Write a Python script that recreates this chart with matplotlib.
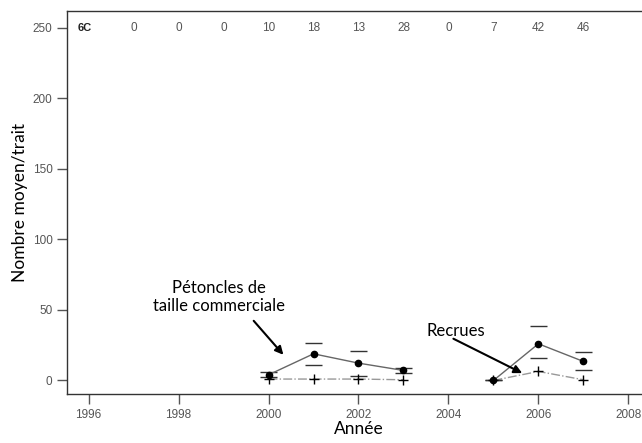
import numpy as np
import matplotlib.pyplot as plt

# Pétoncles de taille commerciale (moyenne et bornes)
annees_a = [2000, 2001, 2002, 2003]
comm_a = [4.0, 18.9, 12.3, 7.1]
comm_a_haut = [5.7, 26.5, 20.6, 8.8]
comm_a_bas = [2.3, 11.1, 3.3, 5.2]

annees_b = [2005, 2006, 2007]
comm_b = [0.0, 26.0, 13.5]
comm_b_haut = [0.0, 38.8, 19.9]
comm_b_bas = [0.0, 15.9, 7.1]

# Recrues
recr_a = [1.0, 1.0, 1.0, 0.5]
recr_b = [0.0, 6.4, 0.5]

# Nombre de traits par année
annees_n = list(range(1997, 2008))
n_traits = [0, 0, 0, 10, 18, 13, 28, 0, 7, 42, 46]

fig = plt.figure(figsize=(6.42, 4.43), dpi=100)
ax = fig.add_axes([0.1044, 0.1106, 0.908, 0.8646])

gris = '#555555'
for xs, ys in [(annees_a, comm_a), (annees_b, comm_b)]:
    ax.plot(xs, ys, '-', color='#666666', lw=1, marker='o', ms=4.5,
            mfc='black', mec='black', zorder=3)
for xs, ys in [(annees_a, recr_a), (annees_b, recr_b)]:
    ax.plot(xs, ys, '-.', color='#999999', lw=1, zorder=2)
    ax.plot(xs, ys, '+', color='black', ms=7, mew=1, zorder=3)

# bornes (traits horizontaux)
for xs, hauts, bas in [(annees_a, comm_a_haut, comm_a_bas),
                       (annees_b, comm_b_haut, comm_b_bas)]:
    xs = np.array(xs)
    ax.hlines(hauts, xs - 0.19, xs + 0.19, color='#333333', lw=1)
    ax.hlines(bas, xs - 0.19, xs + 0.19, color='#333333', lw=1)

# effectifs en haut
ax.text(1995.76, 250, '6C', fontsize=8, fontweight='bold',
        family='Liberation Sans', ha='left', va='center', color='#222222')
for x, n in zip(annees_n, n_traits):
    ax.text(x, 250, str(n), fontsize=8.5, family='Liberation Sans',
            ha='center', va='center', color=gris)

police = 'Lato'
fleche = dict(arrowstyle='-|>', color='black', lw=1.5, mutation_scale=12,
              shrinkA=0, shrinkB=0)
ax.text(1998.89, 59, 'Pétoncles de\ntaille commerciale', ha='center',
        va='center', fontsize=12, family=police, linespacing=1.15)
ax.annotate('', xy=(2000.33, 18.2), xytext=(1999.67, 42.3), arrowprops=fleche)
ax.text(2004.16, 35.4, 'Recrues', ha='center', va='center', fontsize=12,
        family=police)
ax.annotate('', xy=(2005.64, 5.2), xytext=(2004.11, 29.6), arrowprops=fleche)

ax.set_xlim(1995.52, 2008.48)
ax.set_ylim(-9.6, 262)
ax.set_xticks(range(1996, 2009, 2))
ax.set_yticks(range(0, 251, 50))
ax.tick_params(colors=gris, labelsize=8.5, length=7, width=1)
for lab in ax.get_xticklabels() + ax.get_yticklabels():
    lab.set_family('Liberation Sans')
for s in ax.spines.values():
    s.set_color('#333333')
    s.set_linewidth(1)

ax.set_xlabel('Année', fontsize=12.5, family=police, labelpad=0)
ax.set_ylabel('Nombre moyen/trait', fontsize=12.5, family=police, labelpad=3)

fig.savefig('out.png', dpi=100)
